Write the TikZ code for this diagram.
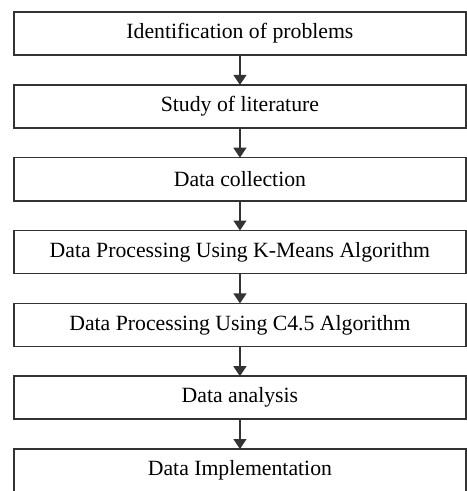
\documentclass[tikz,border=0pt]{standalone}
\usepackage{fontspec}
\setmainfont{Liberation Serif}
\usepackage{tikz}
\usetikzlibrary{arrows.meta}
\usetikzlibrary{positioning}
\colorlet{linegray}{black!80}
\tikzset{>=latex}
\tikzstyle{stage} = [rectangle, draw=linegray, line width=0.8pt, outer sep=0, minimum width=225.5pt, minimum height=21.5pt, inner sep=0, font=\fontsize{10.85}{13}\selectfont]
\tikzstyle{flow} = [-{Triangle[width=6.5pt, length=5pt]}, draw=linegray, line width=0.7pt]

\begin{document}
\begin{tikzpicture}[node distance=14.85pt]
\clip (-119.75pt, 16.75pt) rectangle (113.25pt, -228.3pt);
\node [stage] (P1) at (0, 0) {Identification of problems};
\node [stage, below=of P1] (P2) {Study of literature};
\node [stage, below=of P2] (P3) {Data collection};
\node [stage, below=of P3] (P4) {Data Processing Using K-Means Algorithm};
\node [stage, below=of P4] (P5) {Data Processing Using C4.5 Algorithm};
\node [stage, below=of P5] (P6) {Data analysis};
\node [stage, below=of P6] (P7) {Data Implementation};
\draw [flow] (P1) to (P2);
\draw [flow] (P2) to (P3);
\draw [flow] (P3) to (P4);
\draw [flow] (P4) to (P5);
\draw [flow] (P5) to (P6);
\draw [flow] (P6) to (P7);
\end{tikzpicture}
\end{document}
